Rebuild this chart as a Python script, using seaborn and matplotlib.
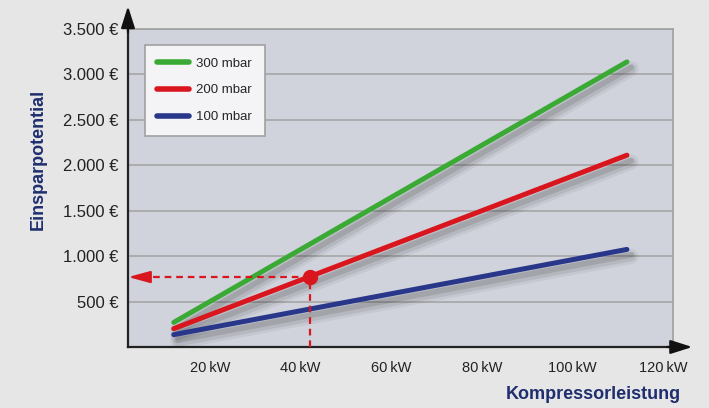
import matplotlib
matplotlib.use("Agg")
import matplotlib.pyplot as plt
import matplotlib.patheffects as pe
import pandas as pd
import seaborn as sns

# chart values
kw = [12, 112]
pressures = ["300 mbar", "200 mbar", "100 mbar"]
savings_300 = [271, 3138]
savings_200 = [202, 2111]
savings_100 = [136, 1074]
example_kw = 42
example_saving = 770
x_ticks = [20, 40, 60, 80, 100, 120]
y_ticks = [500, 1000, 1500, 2000, 2500, 3000, 3500]

colors = {"300 mbar": "#3aaa35", "200 mbar": "#d9161e", "100 mbar": "#29378a"}
navy = "#1f2e6e"

sns.set_theme(style="white")
plt.rcParams["font.family"] = ["Liberation Sans", "DejaVu Sans"]

df = pd.concat([
    pd.DataFrame({"kW": kw, "saving": vals, "pressure": p})
    for p, vals in zip(pressures, [savings_300, savings_200, savings_100])
])

fig = plt.figure(figsize=(7.09, 4.08), dpi=100, facecolor="#e6e6e6")
ax = fig.add_axes([0.1805, 0.1495, 0.7683, 0.7794])
ax.set_facecolor("#d0d3dc")

sns.lineplot(data=df, x="kW", y="saving", hue="pressure", hue_order=pressures,
             palette=colors, linewidth=3.6, ax=ax, legend=True, zorder=3)

shadow = [
    pe.SimpleLineShadow(offset=(3, -5), shadow_color="k", alpha=0.06, linewidth=11),
    pe.SimpleLineShadow(offset=(3, -5), shadow_color="k", alpha=0.09, linewidth=7),
    pe.SimpleLineShadow(offset=(3, -4), shadow_color="k", alpha=0.12, linewidth=4),
    pe.Normal(),
]
for line in ax.lines:
    line.set_solid_capstyle("round")
    line.set_path_effects(shadow)

# example reading: dashed guides to the axes
ax.plot([example_kw, example_kw], [0, example_saving], ls=(0, (3, 2.2)),
        color="#d9161e", lw=1.6, zorder=4)
ax.plot([example_kw, 5], [example_saving, example_saving], ls=(0, (3, 2.2)),
        color="#d9161e", lw=1.6, zorder=4)
ax.annotate("", xy=(1.95, example_saving), xytext=(6, example_saving),
            arrowprops=dict(arrowstyle="-|>,head_length=1.1,head_width=0.3",
                            color="#d9161e", lw=1.6, shrinkA=0, shrinkB=0),
            zorder=5)
ax.plot([example_kw], [example_saving], "o", color="#d9161e", ms=10, zorder=6)

ax.set_xlim(1.9, 122.1)
ax.set_ylim(0, 3500)
ax.set_xticks(x_ticks)
ax.set_xticklabels([f"{t}\u2009kW" for t in x_ticks])
ax.set_yticks(y_ticks)
ax.set_yticklabels([f"{t:,} €".replace(",", ".") for t in y_ticks])
ax.tick_params(axis="x", direction="inout", length=10, width=1.2,
               color="#222222", pad=5, labelsize=10.5, labelcolor="#222222")
ax.tick_params(axis="y", length=0, pad=7, labelsize=12, labelcolor="#222222")
ax.yaxis.grid(True, color="#a6a6a6", lw=1.2)
ax.set_axisbelow(True)
ax.set_xlabel("")
ax.set_ylabel("")

for side in ["top", "right"]:
    ax.spines[side].set_color("#a0a0a0")
    ax.spines[side].set_linewidth(1.2)
for side in ["left", "bottom"]:
    ax.spines[side].set_color("#222222")
    ax.spines[side].set_linewidth(1.6)

# axis arrows
ax.annotate("", xy=(0, 1.072), xytext=(0, 0.99), xycoords="axes fraction",
            arrowprops=dict(arrowstyle="-|>,head_length=1.1,head_width=0.35",
                            color="#111111", lw=1.6, shrinkA=0, shrinkB=0))
ax.annotate("", xy=(1.036, 0), xytext=(0.99, 0), xycoords="axes fraction",
            arrowprops=dict(arrowstyle="-|>,head_length=1.1,head_width=0.35",
                            color="#111111", lw=1.6, shrinkA=0, shrinkB=0))

leg = ax.legend(loc="upper left", bbox_to_anchor=(0.031, 0.95), borderaxespad=0,
                fontsize=9.5, frameon=True, fancybox=False, framealpha=1,
                facecolor="#f4f4f6", edgecolor="#a0a0a0", handlelength=2.4,
                handletextpad=0.55, labelspacing=1.1, borderpad=0.95, title=None)
leg.get_frame().set_linewidth(1.2)
for h in leg.get_lines():
    h.set_linewidth(4)
    h.set_path_effects([])

fig.text(0.054, 0.61, "Einsparpotential", rotation=90, ha="center", va="center",
         fontsize=13, fontweight="bold", color=navy)
fig.text(0.96, 0.032, "Kompressorleistung", ha="right", va="center",
         fontsize=13, fontweight="bold", color=navy)

fig.savefig("out.png", dpi=100, facecolor=fig.get_facecolor())
